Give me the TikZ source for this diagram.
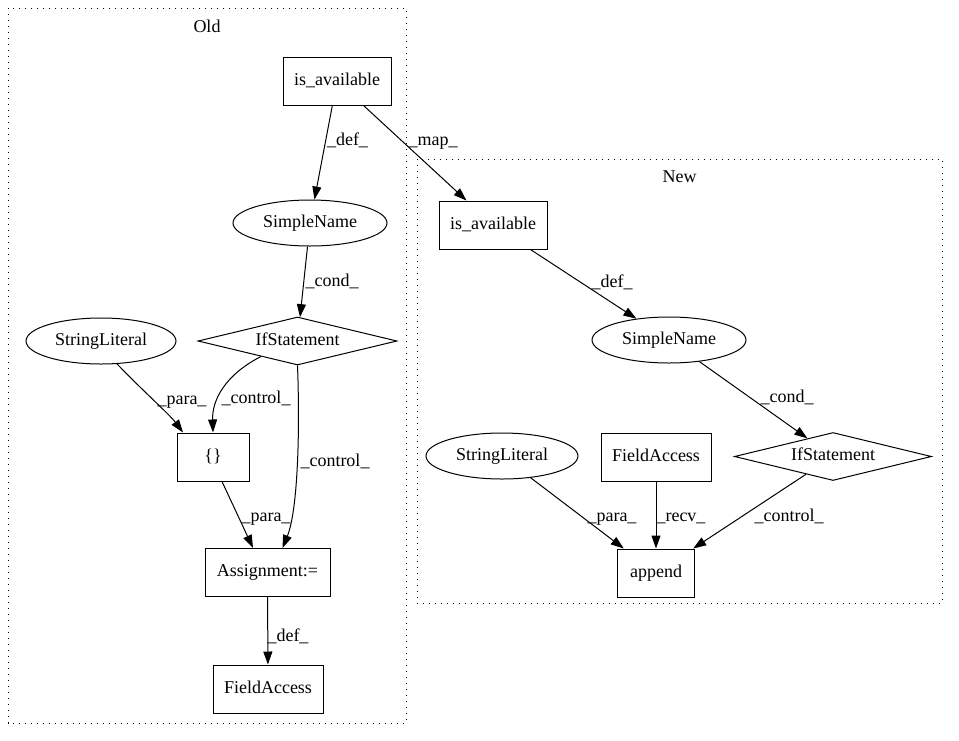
\documentclass[tikz,border=0pt]{standalone}
\usepackage{fontspec}
\setmainfont{Liberation Serif}
\usetikzlibrary{shapes.geometric,arrows.meta}
\begin{document}
\begin{tikzpicture}[x=1pt,y=-1pt,
  every node/.style={font=\fontsize{18}{21}\selectfont, text height=12.5pt, text depth=4pt, inner sep=0pt},
  box/.style={draw, rectangle, minimum height=48pt, line width=1pt},
  ell/.style={draw, ellipse, minimum width=152pt, minimum height=46pt, line width=1pt},
  dia/.style={draw, diamond, aspect=4.15, minimum width=199pt, minimum height=48pt, line width=1pt},
  edge/.style={line width=1pt, -{Triangle[length=13pt,width=9pt]}},
  lbl/.style={},
  cluster/.style={line width=1pt, dash pattern=on 1.3pt off 4.7pt}]
\useasboundingbox (0,0) rectangle (959,740);
% clusters
\draw[cluster] (8,8) rectangle (406,723);
\node (oldlbl) at (207,28) {Old};
\draw[cluster] (417,159) rectangle (942,603);
\node (newlbl) at (679.5,178) {New};
% old nodes
\node[box, minimum width=108pt] (oia) at (337,81) {is\_available};
\node[ell, minimum width=154pt] (osn) at (310,223) {SimpleName};
\node[dia] (oif) at (297.5,341) {IfStatement};
\node[ell, minimum width=150pt] (osl) at (101,341) {StringLiteral};
\node[box, minimum width=72pt] (obr) at (213,457) {\{\}};
\node[box, minimum width=125pt] (oas) at (267.5,572.5) {Assignment:=};
\node[box, minimum width=110pt] (ofa) at (268,689) {FieldAccess};
% new nodes
\node[box, minimum width=108pt] (nia) at (493,225) {is\_available};
\node[ell, minimum width=154pt] (nsn) at (669,340) {SimpleName};
\node[dia, minimum width=197pt] (nif) at (833,456.5) {IfStatement};
\node[ell, minimum width=152pt] (nsl) at (502,456) {StringLiteral};
\node[box, minimum width=110pt] (nfa) at (656,457) {FieldAccess};
\node[box, minimum width=77pt] (nap) at (656,573) {append};
% old edges
\draw[edge] (oia) -- (osn);
\draw[edge] (oia) -- (nia);
\draw[edge] (osn) -- (oif);
\draw[edge] (osl.-55) .. controls (140,388) and (170,415) .. ([xshift=-30pt]obr.north);
\draw[edge] (oif.-157) .. controls (225,375) and (212,400) .. (obr.north);
\draw[edge] (oif.south) .. controls (300,430) and (298,510) .. ([xshift=15pt]oas.north);
\draw[edge] ([xshift=9pt]obr.south) -- ([xshift=-14.5pt]oas.north);
\draw[edge] (oas) -- (ofa);
% new edges
\draw[edge] (nia) -- (nsn);
\draw[edge] (nsn) -- (nif);
\draw[edge] (nsl) -- (nap);
\draw[edge] (nfa) -- (nap);
\draw[edge] (nif) -- (nap);
% edge labels
\node[lbl] (l1) at (347.5,141) {\_def\_};
\node[lbl] (l2) at (433,141) {\_map\_};
\node[lbl] (l3) at (332,282) {\_cond\_};
\node[lbl] (l4) at (182,400) {\_para\_};
\node[lbl] (l5) at (256,399) {\_control\_};
\node[lbl] (l6) at (335,462) {\_control\_};
\node[lbl] (l7) at (266,517) {\_para\_};
\node[lbl] (l8) at (288,637) {\_def\_};
\node[lbl] (l9) at (612,283) {\_def\_};
\node[lbl] (l10) at (787,398) {\_cond\_};
\node[lbl] (l11) at (612,517) {\_para\_};
\node[lbl] (l12) at (681,517) {\_recv\_};
\node[lbl] (l13) at (789,517) {\_control\_};
\end{tikzpicture}
\end{document}
